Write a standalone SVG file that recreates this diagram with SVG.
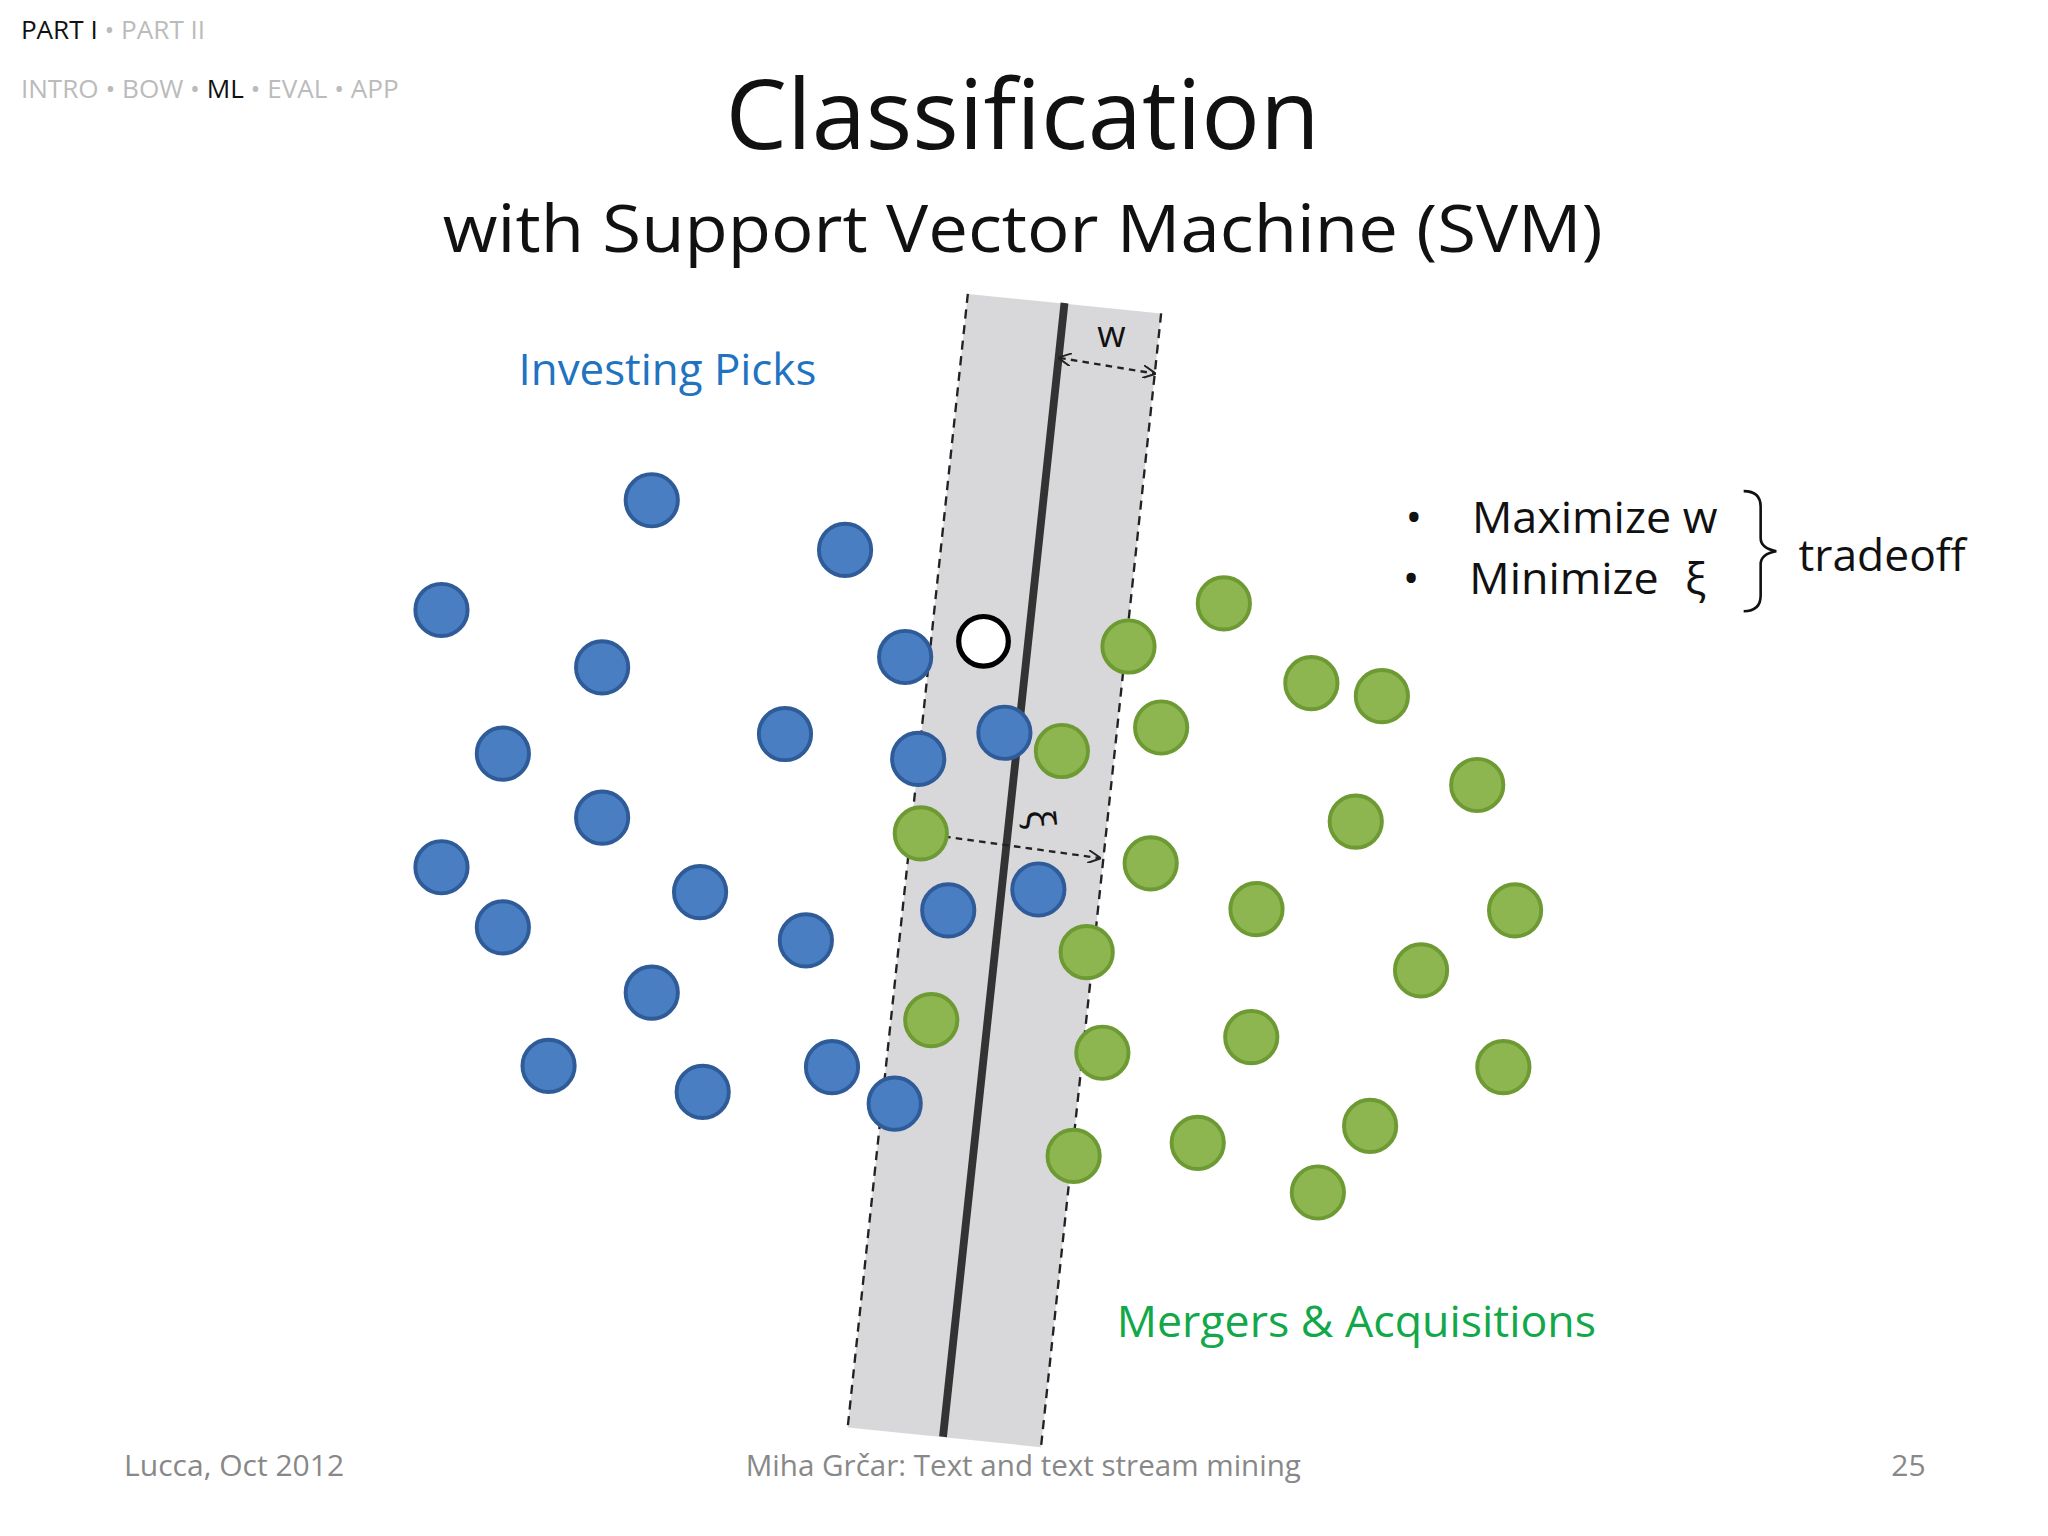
<svg xmlns="http://www.w3.org/2000/svg" width="2048" height="1536" viewBox="0 0 2048 1536">
<style>
text{font-family:"Open Sans","Noto Sans",sans-serif}
.b{fill:#4A7EC2;stroke:#2F5C99;stroke-width:3}
.g{fill:#8DB650;stroke:#6E9A34;stroke-width:3}
.dash{stroke:#222;stroke-width:1.8;stroke-dasharray:7 5;fill:none}
.arr{stroke:#222;stroke-width:1.8;stroke-dasharray:5 4;fill:none;marker-start:url(#ah);marker-end:url(#ah)}
.hd{font-size:20px;fill:#bbb}
.ft{font-size:23px;fill:#888}
.big{font-size:34px;fill:#111}
</style>
<defs>
<marker id="ah" viewBox="0 0 10 10" refX="9" refY="5" markerWidth="10" markerHeight="10" orient="auto-start-reverse" markerUnits="userSpaceOnUse"><path d="M0,0 L10,5 L0,10" fill="none" stroke="#222" stroke-width="1.5"/></marker>
</defs>
<rect width="2048" height="1536" fill="#fff"/>
<g transform="scale(1.30612)">
<g id="header">
<text x="16" y="30" class="hd"><tspan fill="#111">PART I</tspan> • PART II</text>
<text x="16" y="75" class="hd">INTRO • BOW • <tspan fill="#111">ML</tspan> • EVAL • APP</text>
</g>
<g id="title">
<text x="783" y="114" text-anchor="middle" font-size="74" fill="#111" textLength="455" lengthAdjust="spacingAndGlyphs">Classification</text>
<text x="783" y="193" text-anchor="middle" font-size="50" fill="#111" textLength="888" lengthAdjust="spacingAndGlyphs">with Support Vector Machine (SVM)</text>
</g>
<g id="margin">
<polygon points="741,225 889,240 797,1108 649,1093" fill="#d8d8da"/>
<line x1="741" y1="225" x2="649" y2="1093" class="dash"/>
<line x1="889" y1="240" x2="797" y2="1108" class="dash"/>
<line x1="815" y1="232" x2="722" y2="1100" stroke="#333" stroke-width="6"/>
</g>
<g id="connectors">
<line x1="811" y1="274" x2="884" y2="286" class="arr"/>
<line x1="705" y1="638" x2="842" y2="657" class="arr"/>
</g>
<text x="851" y="266" text-anchor="middle" font-size="28" fill="#111">w</text>
<text x="0" y="0" font-size="30" fill="#111" font-family="Liberation Serif,serif" transform="translate(786,628) rotate(84)" text-anchor="middle">ξ</text>
<g id="blue">
<circle class="b" cx="499" cy="383" r="20"/><circle class="b" cx="647" cy="421" r="20"/><circle class="b" cx="338" cy="467" r="20"/><circle class="b" cx="461" cy="511" r="20"/><circle class="b" cx="693" cy="503" r="20"/><circle class="b" cx="385" cy="577" r="20"/><circle class="b" cx="601" cy="562" r="20"/><circle class="b" cx="703" cy="581" r="20"/><circle class="b" cx="769" cy="561" r="20"/><circle class="b" cx="461" cy="626" r="20"/><circle class="b" cx="338" cy="664" r="20"/><circle class="b" cx="536" cy="683" r="20"/><circle class="b" cx="385" cy="710" r="20"/><circle class="b" cx="617" cy="720" r="20"/><circle class="b" cx="726" cy="697" r="20"/><circle class="b" cx="795" cy="681" r="20"/><circle class="b" cx="499" cy="760" r="20"/><circle class="b" cx="420" cy="816" r="20"/><circle class="b" cx="538" cy="836" r="20"/><circle class="b" cx="637" cy="817" r="20"/><circle class="b" cx="685" cy="845" r="20"/>
</g>
<g id="green">
<circle class="g" cx="937" cy="462" r="20"/><circle class="g" cx="864" cy="495" r="20"/><circle class="g" cx="1004" cy="523" r="20"/><circle class="g" cx="1058" cy="533" r="20"/><circle class="g" cx="889" cy="557" r="20"/><circle class="g" cx="813" cy="575" r="20"/><circle class="g" cx="1131" cy="601" r="20"/><circle class="g" cx="1038" cy="629" r="20"/><circle class="g" cx="705" cy="638" r="20"/><circle class="g" cx="881" cy="661" r="20"/><circle class="g" cx="962" cy="696" r="20"/><circle class="g" cx="1160" cy="697" r="20"/><circle class="g" cx="832" cy="729" r="20"/><circle class="g" cx="1088" cy="743" r="20"/><circle class="g" cx="713" cy="781" r="20"/><circle class="g" cx="844" cy="806" r="20"/><circle class="g" cx="958" cy="794" r="20"/><circle class="g" cx="1151" cy="817" r="20"/><circle class="g" cx="1049" cy="862" r="20"/><circle class="g" cx="917" cy="875" r="20"/><circle class="g" cx="822" cy="885" r="20"/><circle class="g" cx="1009" cy="913" r="20"/>
</g>
<g id="new-point"><circle cx="753" cy="491" r="19" fill="#fff" stroke="#000" stroke-width="4"/></g>
<text x="397" y="295" font-size="34" fill="#1F73C0" textLength="228" lengthAdjust="spacingAndGlyphs">Investing Picks</text>
<text x="855" y="1024" font-size="34" fill="#12A84A" textLength="367" lengthAdjust="spacingAndGlyphs">Mergers &amp; Acquisitions</text>
<g id="legend">
<text x="1076" y="408" class="big">•</text>
<text x="1127" y="408" class="big" textLength="188" lengthAdjust="spacingAndGlyphs">Maximize w</text>
<text x="1074" y="455" class="big">•</text>
<text x="1125" y="455" class="big" textLength="145" lengthAdjust="spacingAndGlyphs">Minimize</text>
<text x="1290" y="455" font-size="34" fill="#111" font-family="Liberation Serif,serif">ξ</text>
<path d="M1335,376 Q1348,376 1348,388 L1348,412 Q1348,420 1360,422 Q1348,424 1348,432 L1348,456 Q1348,468 1335,468" fill="none" stroke="#111" stroke-width="2"/>
<text x="1377" y="437" class="big" textLength="128" lengthAdjust="spacingAndGlyphs">tradeoff</text>
</g>
<g id="footer">
<text x="95" y="1130" class="ft">Lucca, Oct 2012</text>
<text x="571" y="1130" class="ft" textLength="425" lengthAdjust="spacingAndGlyphs">Miha Grčar: Text and text stream mining</text>
<text x="1448" y="1130" class="ft">25</text>
</g>
</g>
</svg>
